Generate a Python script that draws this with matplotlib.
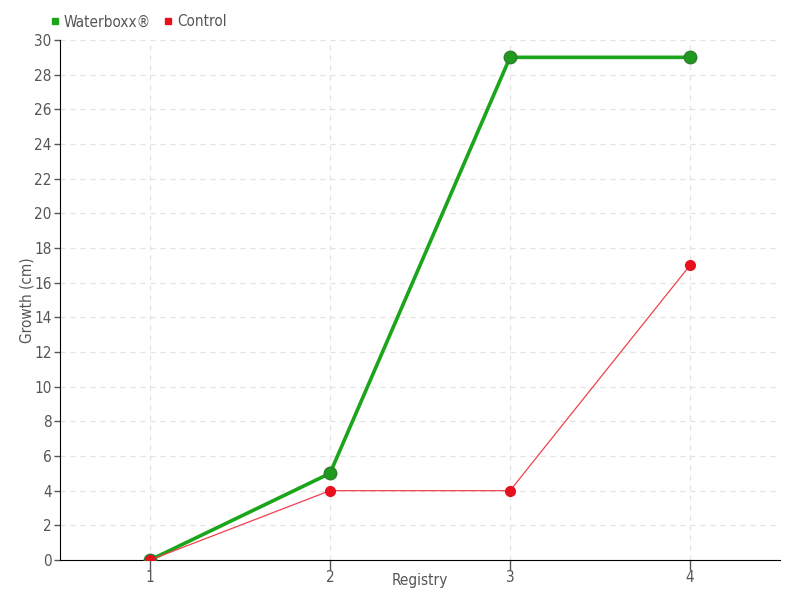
import matplotlib
matplotlib.use('Agg')
import matplotlib.pyplot as plt
from matplotlib.lines import Line2D

plt.rcParams['font.family'] = ['DejaVu Sans']
plt.rcParams['font.stretch'] = 'condensed'

registry = [1, 2, 3, 4]
waterboxx = [0, 5, 29, 29]
control = [0, 4, 4, 17]

fig = plt.figure(figsize=(8, 6), dpi=100)
ax = fig.add_axes([60/800, 40/600, 720/800, 520/600])

ax.plot(registry, waterboxx, color='#1aa51a', lw=2.6, marker='o', ms=9,
        mfc='#1f9a1f', mec='#2e7d2e', mew=1, zorder=3)
ax.plot(registry, control, color='#f0404f', lw=0.9, marker='o', ms=7,
        mfc='#e8101c', mec='#e8101c', zorder=4)

ax.set_xlim(0.5, 4.5)
ax.set_ylim(0, 30)
ax.set_xticks(registry)
ax.set_yticks(range(0, 31, 2))
ax.grid(True, ls=(0, (4, 4)), color='#e2e2e2', lw=0.9)
ax.set_axisbelow(True)
for s in ['top', 'right']:
    ax.spines[s].set_visible(False)
ax.spines['left'].set_color('black')
ax.spines['bottom'].set_color('black')
ax.tick_params(colors='#555555', labelsize=11, length=4, width=1, pad=2)
ax.tick_params(axis='x', direction='out', length=7, pad=0)
ax.set_xlabel('Registry', color='#555555', fontsize=11, va='center')
ax.xaxis.set_label_coords(0.5, -21/520)
ax.set_ylabel('Growth (cm)', color='#555555', fontsize=11, va='center')
ax.yaxis.set_label_coords(-33/720, 0.5)

handles = [Line2D([], [], ls='none', marker='s', ms=5, color='#1aa51a'),
           Line2D([], [], ls='none', marker='s', ms=5, color='#e8101c')]
fig.legend(handles, ['Waterboxx®', 'Control'], loc='center left',
           bbox_to_anchor=(47/800, 1 - 22/600), ncol=2, frameon=False,
           fontsize=11, handletextpad=0.1, columnspacing=0.6,
           handlelength=1, labelcolor='#555555', borderaxespad=0, borderpad=0)

fig.savefig('out.png', dpi=100)
